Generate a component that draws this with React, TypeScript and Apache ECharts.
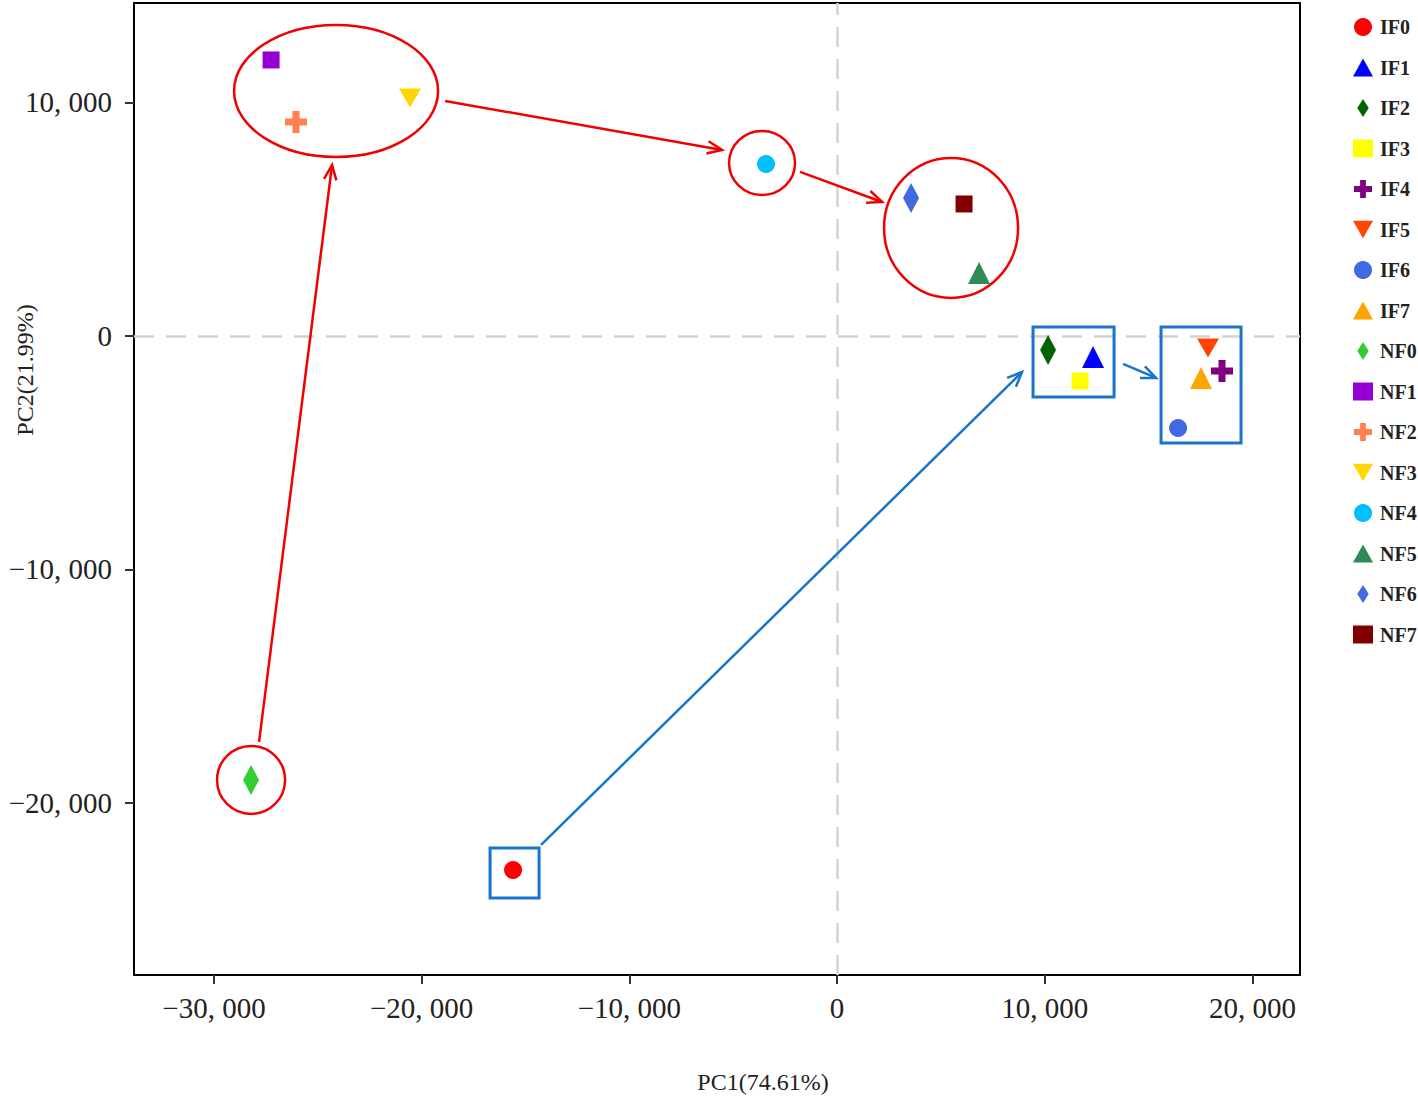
import React, { useEffect, useRef } from "react";
import * as echarts from "echarts";

const seriesNames = ["IF0", "IF1", "IF2", "IF3", "IF4", "IF5", "IF6", "IF7", "NF0", "NF1", "NF2", "NF3", "NF4", "NF5", "NF6", "NF7"];
const pc1 = [-15600, 12325, 10160, 11700, 18535, 17860, 16420, 17525, -28215, -27250, -26050, -20560, -3420, 6837, 3563, 6115];
const pc2 = [-22870, -900, -600, -1927, -1500, -514, -3940, -1800, -19015, 11820, 9165, 10190, 7366, 2698, 5910, 5653];
const colors = ["#FF0000", "#0000FF", "#006400", "#FFFF00", "#800080", "#FF4500", "#4169E1", "#FFA500", "#32CD32", "#9400D3", "#FF7F50", "#FFD700", "#00BFFF", "#2E8B57", "#4169E1", "#800000"];
const PLUS = "path://M3.4,0 H6.6 V3.4 H10 V6.6 H6.6 V10 H3.4 V6.6 H0 V3.4 H3.4 Z";
const TRI_DOWN = "path://M0,0 L11,0 L5.5,9.5 Z";
const DIAMOND = "path://M7,0 L14,11 L7,22 L0,11 Z";
const shapes = ["circle", "triangle", DIAMOND, "rect", PLUS, TRI_DOWN, "circle", "triangle", DIAMOND, "rect", PLUS, TRI_DOWN, "circle", "triangle", DIAMOND, "rect"];

const xTicks = [-30000, -20000, -10000, 0, 10000, 20000];
const yTicks = [-20000, -10000, 0, 10000];

// annotation shapes in data units
const redEllipses = [
  { cx: -24121, cy: 10493, rx: 4911, ry: 2827 },
  { cx: -3611, cy: 7409, rx: 1589, ry: 1370 },
  { cx: 5489, cy: 4625, rx: 3226, ry: 2998 },
  { cx: -28214, cy: -19015, rx: 1637, ry: 1456 },
];
const redArrows = [
  [-27829, -17388, -24314, 7323],
  [-18873, 10064, -5537, 7966],
  [-1781, 7024, 2167, 5739],
];
const blueRects = [
  [-16707, -21927, -14347, -24069],
  [9437, 385, 13337, -2612],
  [15600, 385, 19451, -4582],
];
const blueArrows = [
  [-14251, -21799, 8907, -1542],
  [13770, -1199, 15359, -1799],
];

const FONT = "Liberation Serif";

export default function App() {
  const ref = useRef<HTMLDivElement>(null);
  useEffect(() => {
    const chart = echarts.init(ref.current!, null, { renderer: "svg" });
    const fmt = (v: number) => {
      const s = Math.abs(v).toLocaleString("en-US").replace(/,/g, ", ");
      return (v < 0 ? "\u2212" : "") + s;
    };
    const series: any[] = seriesNames.map((n, i) => {
      const sh = shapes[i];
      let size: any = 18;
      if (sh === "triangle") size = 22;
      if (sh === TRI_DOWN) size = [22, 19];
      if (sh === DIAMOND) size = [16, 30];
      if (sh === "rect") size = 17;
      if (sh === PLUS) size = 22;
      return {
        name: n,
        type: "scatter",
        data: [[pc1[i], pc2[i]]],
        symbol: sh,
        symbolSize: size,
        itemStyle: { color: colors[i], opacity: 1 },
        z: 3,
      };
    });
    series[0].markLine = {
      silent: true,
      symbol: ["none", "none"],
      label: { show: false },
      lineStyle: { color: "#d4d4d4", type: [20, 12], width: 2.5 },
      data: [{ xAxis: 0 }, { yAxis: 0 }],
      z: 1,
    };
    chart.setOption({
      animation: false,
      backgroundColor: "#ffffff",
      grid: { left: 134, right: 118, top: 3, bottom: 123, show: true, borderColor: "#000", borderWidth: 2 },
      xAxis: {
        type: "value",
        min: -33850,
        max: 22290,
        splitLine: { show: false },
        axisLine: { show: true, onZero: false, lineStyle: { color: "#000", width: 2 } },
        axisTick: { show: true, customValues: xTicks, length: 9, lineStyle: { color: "#333", width: 2 } },
        axisLabel: { customValues: xTicks, formatter: fmt, fontFamily: FONT, fontSize: 29, color: "#222", margin: 18 },
      },
      yAxis: {
        type: "value",
        min: -27370,
        max: 14260,
        splitLine: { show: false },
        axisLine: { show: true, onZero: false, lineStyle: { color: "#000", width: 2 } },
        axisTick: { show: true, customValues: yTicks, length: 9, lineStyle: { color: "#333", width: 2 } },
        axisLabel: { customValues: yTicks, formatter: fmt, fontFamily: FONT, fontSize: 29, color: "#222", margin: 22 },
      },
      legend: {
        orient: "vertical",
        left: 1348,
        top: 12,
        itemWidth: 20,
        itemHeight: 18,
        itemGap: 20.5,
        textStyle: { fontFamily: FONT, fontSize: 20, color: "#222", fontWeight: "bold", padding: [0, 0, 0, 2] },
        data: seriesNames,
      },
      series,
    });

    const P = (x: number, y: number) => chart.convertToPixel({ gridIndex: 0 }, [x, y]) as number[];
    const graphics: any[] = [];
    const arrowHead = (s: number[], e: number[], color: string) => {
      const dx = e[0] - s[0], dy = e[1] - s[1];
      const len = Math.hypot(dx, dy);
      const ux = dx / len, uy = dy / len;
      const L = 16, th = 0.4;
      const r1 = [ux * Math.cos(th) - uy * Math.sin(th), ux * Math.sin(th) + uy * Math.cos(th)];
      const r2 = [ux * Math.cos(-th) - uy * Math.sin(-th), ux * Math.sin(-th) + uy * Math.cos(-th)];
      return {
        type: "polyline",
        shape: { points: [[e[0] - L * r1[0], e[1] - L * r1[1]], e, [e[0] - L * r2[0], e[1] - L * r2[1]]] },
        style: { stroke: color, lineWidth: 2.5, fill: "none" },
        z: 10,
      };
    };
    redEllipses.forEach((el) => {
      const c = P(el.cx, el.cy);
      const rx = P(el.cx + el.rx, el.cy)[0] - c[0];
      const ry = c[1] - P(el.cx, el.cy + el.ry)[1];
      graphics.push({ type: "ellipse", shape: { cx: c[0], cy: c[1], rx, ry }, style: { stroke: "#F00000", lineWidth: 2.5, fill: "none" }, z: 10 });
    });
    redArrows.forEach((a) => {
      const s = P(a[0], a[1]), e = P(a[2], a[3]);
      graphics.push({ type: "line", shape: { x1: s[0], y1: s[1], x2: e[0], y2: e[1] }, style: { stroke: "#F00000", lineWidth: 2.5 }, z: 10 });
      graphics.push(arrowHead(s, e, "#F00000"));
    });
    blueRects.forEach((r) => {
      const a = P(r[0], r[1]), b = P(r[2], r[3]);
      graphics.push({ type: "rect", shape: { x: a[0], y: a[1], width: b[0] - a[0], height: b[1] - a[1] }, style: { stroke: "#1874CD", lineWidth: 3, fill: "none" }, z: 10 });
    });
    blueArrows.forEach((a) => {
      const s = P(a[0], a[1]), e = P(a[2], a[3]);
      graphics.push({ type: "line", shape: { x1: s[0], y1: s[1], x2: e[0], y2: e[1] }, style: { stroke: "#1874CD", lineWidth: 2.5 }, z: 10 });
      graphics.push(arrowHead(s, e, "#1874CD"));
    });
    graphics.push({ type: "text", x: 763, y: 1082, style: { text: "PC1(74.61%)", font: `24px "${FONT}"`, fill: "#222", align: "center", verticalAlign: "middle" }, z: 10 });
    graphics.push({ type: "text", x: 25, y: 370, rotation: Math.PI / 2, style: { text: "PC2(21.99%)", font: `24px "${FONT}"`, fill: "#222", align: "center", verticalAlign: "middle" }, z: 10 });
    chart.setOption({ graphic: graphics });

    return () => chart.dispose();
  }, []);
  return <div ref={ref} style={{ position: "fixed", left: 0, top: 0, width: 1418, height: 1098 }} />;
}
